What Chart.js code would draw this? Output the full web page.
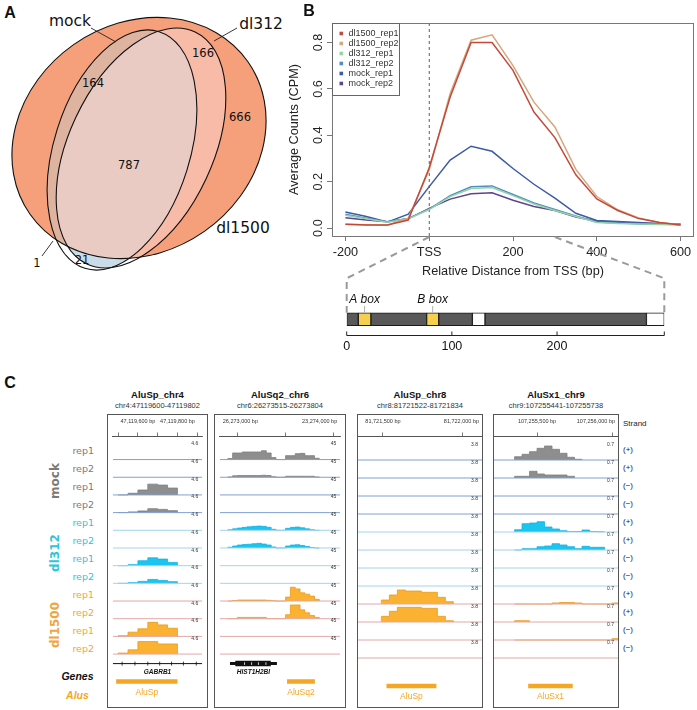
<!DOCTYPE html>
<html>
<head>
<meta charset="utf-8">
<title>Alu Pol III figure</title>
<script src="https://cdn.jsdelivr.net/npm/chart.js@4.4.1/dist/chart.umd.min.js"></script>
<style>
  body { margin: 0; background: #fff; }
  #fig { position: relative; width: 697px; height: 710px; overflow: hidden; font-family: "Liberation Sans", Arial, sans-serif; color: #111; -webkit-font-smoothing: antialiased; }
  #fig canvas, #fig svg, .t, .box { position: absolute; }
  .t { white-space: nowrap; line-height: 1; }
  .box { border: 1px solid #555; box-sizing: border-box; }
</style>
</head>
<body>
<div id="fig">
  <svg id="venn" width="300" height="300" style="left:0;top:0"></svg>
  <canvas id="chartB" width="417" height="290" style="left:280px;top:0"></canvas>
  <canvas id="chartGene" width="350" height="124" style="left:330px;top:236px"></canvas>
</div>
<script>
// panel A: peak overlap
const vennNames = ['mock', 'dl312', 'dl1500'];
const vennCounts = [164, 166, 666, 787, 21, 1]; // mock&dl1500, dl312&dl1500, dl1500 only, all, mock&dl312, mock only

// panel B: average profile around the TSS
const distance = [-200, -150, -100, -50, 0, 50, 100, 150, 200, 250, 300, 350, 400, 450, 500, 550, 600];
const dl1500Rep1 = [0.017, 0.013, 0.013, 0.035, 0.26, 0.565, 0.80, 0.80, 0.68, 0.50, 0.39, 0.23, 0.126, 0.076, 0.041, 0.024, 0.013];
const dl1500Rep2 = [0.017, 0.014, 0.012, 0.043, 0.25, 0.58, 0.81, 0.833, 0.70, 0.543, 0.436, 0.253, 0.136, 0.079, 0.044, 0.024, 0.014];
const dl312Rep1 = [0.055, 0.04, 0.025, 0.04, 0.08, 0.136, 0.171, 0.175, 0.14, 0.104, 0.076, 0.05, 0.024, 0.02, 0.018, 0.016, 0.015];
const dl312Rep2 = [0.06, 0.043, 0.027, 0.042, 0.082, 0.14, 0.178, 0.182, 0.145, 0.108, 0.08, 0.052, 0.026, 0.022, 0.019, 0.017, 0.016];
const mockRep1 = [0.069, 0.05, 0.026, 0.06, 0.179, 0.293, 0.353, 0.331, 0.257, 0.189, 0.129, 0.064, 0.033, 0.029, 0.024, 0.02, 0.017];
const mockRep2 = [0.045, 0.035, 0.027, 0.04, 0.085, 0.125, 0.148, 0.152, 0.12, 0.093, 0.076, 0.048, 0.03, 0.025, 0.02, 0.018, 0.016];
const seriesNames = ['dl1500_rep1', 'dl1500_rep2', 'dl312_rep1', 'dl312_rep2', 'mock_rep1', 'mock_rep2'];
const seriesValues = [dl1500Rep1, dl1500Rep2, dl312Rep1, dl312Rep2, mockRep1, mockRep2];
const seriesColors = ['#c4493a', '#d7a77c', '#93d3a5', '#4e8ec2', '#3d5aa6', '#5e4391'];
const xTicks = [-200, 0, 200, 400, 600];
const xTickLabels = ['-200', 'TSS', '200', '400', '600'];
const yTicks = [0, 0.2, 0.4, 0.6, 0.8];
const yTickLabels = ['0.0', '0.2', '0.4', '0.6', '0.8'];

// panel B: Alu element drawn under the profile
const aluSegStart = [0, 11, 23, 76, 87.5, 119.5, 131.5, 285];
const aluSegEnd = [11, 23, 76, 87.5, 119.5, 131.5, 285, 302];
const aluSegType = ['body', 'box', 'body', 'box', 'body', 'gap', 'body', 'gap'];
const aluBoxNames = ['A box', 'B box'];
const aluScaleTicks = [0, 100, 200, 302];
const aluScaleLabels = ['0', '100', '200', ''];

// panel C: browser tracks
const colTitles = ['AluSp_chr4', 'AluSq2_chr6', 'AluSp_chr8', 'AluSx1_chr9'];
const colRegions = ['chr4:47119600-47119802', 'chr6:26273515-26273804', 'chr8:81721522-81721834', 'chr9:107255441-107255738'];
const colRange = [[47119473, 47119925], [26272817, 26274067], [81721344, 81722119], [107255213, 107256040]];
const colTicks = [[47119500, 47119600, 47119700, 47119800, 47119900], [26273000, 26273500, 26274000], [81721500, 81722000], [107255500, 107256000]];
const colTickLabels = [['', '47,119,600 bp', '', '47,119,800 bp', ''], ['26,273,000 bp', '', '23,274,000 bp'], ['81,721,500 bp', '81,722,000 bp'], ['107,255,500 bp', '107,256,000 bp']];
const colDataRange = ['4.6', '45', '3.8', '0.7'];
const colBinStart = [47119500, 26272900, 81721490, 107255350];
const binSize = 50;

const trackGroups = ['mock', 'mock', 'mock', 'mock', 'dl312', 'dl312', 'dl312', 'dl312', 'dl1500', 'dl1500', 'dl1500', 'dl1500'];
const trackReps = ['rep1', 'rep2', 'rep1', 'rep2', 'rep1', 'rep2', 'rep1', 'rep2', 'rep1', 'rep2', 'rep1', 'rep2'];
const trackStrand = ['(+)', '(+)', '(\u2212)', '(\u2212)', '(+)', '(+)', '(\u2212)', '(\u2212)', '(+)', '(+)', '(\u2212)', '(\u2212)'];

const covChr4 = [
  [], [], [0, 0.43, 1.28, 2.81, 2.56, 1.79], [0, 0.18, 0.43, 1.02, 0.84, 0.51],
  [], [], [0, 0.26, 1.28, 2.04, 1.71, 0.84], [0, 0.18, 0.51, 1.02, 0.77, 0.43],
  [], [], [0.18, 1.10, 1.97, 3.65, 2.99, 2.12], [0.26, 1.10, 3.25, 3.25, 2.63, 2.63]
];
const covChr6 = [
  [2.5, 16.8, 16.8, 19.3, 19.3, 19.3, 19.3, 22.5, 16.8, 5, 0, 0, 10, 10, 15, 15.8, 10, 10, 3.3],
  [0.8, 3.8, 4.3, 4.3, 4.3, 4.3, 4.3, 5, 4.3, 1.3, 0, 0, 2.5, 2.5, 2.5, 2.5, 2.5, 2.5, 0.8],
  [], [],
  [1.3, 3.8, 5.8, 7.5, 8.8, 10, 10.8, 10, 7.5, 2.5, 0, 0, 5, 7.5, 8.3, 6.3, 3.8, 1.3, 0],
  [1.8, 5, 7.5, 8.8, 9.5, 10.8, 11.8, 10, 7.5, 2.5, 0, 0, 5, 7.5, 8.3, 6.3, 3.8, 1.3, 0],
  [], [],
  [0, 1.3, 2.5, 2.5, 2.5, 2.5, 2.5, 2.5, 1.8, 0.8, 0, 0, 10, 35, 30.8, 20.8, 17.5, 12.5, 4.3],
  [0, 0, 3.3, 3.3, 3.3, 3.3, 3.3, 3.3, 0, 0, 0, 0, 10, 35, 35, 22.5, 15, 8.3, 3.3],
  [], []
];
const covChr8 = [
  [], [], [], [], [], [], [], [],
  [0.84, 1.9, 2.96, 2.74, 2.74, 2.47, 2.47, 1.41, 0.49],
  [1.2, 2.26, 3.1, 3.1, 3.1, 2.89, 2.89, 1.2, 0.27],
  [], []
];
const covChr9 = [
  [0.128, 0.222, 0.323, 0.455, 0.544, 0.416, 0.261, 0.105, 0.027],
  [0.066, 0.066, 0.261, 0.156, 0.117, 0.117, 0.117, 0.066],
  [], [],
  [0.089, 0.323, 0.35, 0.4, 0.194, 0.117, 0.051, 0.019, 0.019, 0.078, 0.019, 0.012],
  [0, 0.051, 0.051, 0.128, 0.156, 0.245, 0.194, 0.128, 0.051, 0.144, 0.105, 0.105],
  [], [],
  [0, 0, 0, 0, 0, 0.039, 0.058, 0.058, 0.039, 0, 0, 0, 0, 0.039],
  [0.051, 0.051],
  [0, 0, 0, 0, 0, 0, 0, 0, 0, 0, 0, 0, 0, 0.051],
  []
];
const colCoverage = [covChr4, covChr6, covChr8, covChr9];

const geneNames = ['GABRB1', 'HIST1H2BI', '', ''];
const geneSpans = [[47119473, 47119925], [26272923, 26273410], null, null];
const geneCds = [null, [26272978, 26273346], null, null];
const geneMarks = [[47119520, 47119585, 47119650, 47119710, 47119770, 47119830, 47119895], [26273074, 26273147, 26273218, 26273296], [], []];
const aluNames = ['AluSp', 'AluSq2', 'AluSp', 'AluSx1'];
const aluSpans = [[47119490, 47119800], [26273515, 26273804], [81721522, 81721834], [107255441, 107255738]];


Chart.defaults.font.family = '"Liberation Sans", Arial, sans-serif';
Chart.defaults.animation = false;

const fig = document.getElementById('fig');

function addText(txt, x, y, css, anchor) {
  const d = document.createElement('div');
  d.className = 't';
  d.textContent = txt;
  d.style.cssText = `left:${x}px;top:${y}px;${css || ''}`;
  const tx = anchor === 'right' ? '-100%' : anchor === 'left' ? '0' : '-50%';
  d.style.transform = `translate(${tx},-50%)` + (anchor === 'rot' ? ' rotate(-90deg)' : '');
  fig.appendChild(d);
  return d;
}

// panel letters
addText('A', 10, 12.5, 'font-weight:bold;font-size:16px');
addText('B', 309, 11, 'font-weight:bold;font-size:16px');
addText('C', 10, 383, 'font-weight:bold;font-size:16px');


// ---------- A: Venn ----------

const ell = {
  dl1500: [139, 138, 133, 114, -35],
  mock: [122, 150, 124, 68, -72.6],
  dl312: [141, 148, 128, 72, -65]
};
const el = (k, extra) => {
  const [cx, cy, rx, ry, r] = ell[k];
  return `<ellipse cx="${cx}" cy="${cy}" rx="${rx}" ry="${ry}" transform="rotate(${r} ${cx} ${cy})" ${extra}/>`;
};
const countPos = [[93, 83], [203, 53], [240, 117], [129, 165], [82, 260], [37, 263]];
const namePos = [[70, 21], [261, 24], [243, 228]];

document.getElementById('venn').innerHTML = `
<defs>
  <clipPath id="clipBig">${el('dl1500', '')}</clipPath>
  <clipPath id="clipMock">${el('mock', '')}</clipPath>
</defs>
<g clip-path="url(#clipMock)">${el('dl312', 'fill="#c9dce7"')}</g>
${el('dl1500', 'fill="#f59f7b"')}
<g clip-path="url(#clipBig)">
  ${el('mock', 'fill="#deb4a1"')}
  ${el('dl312', 'fill="#f8bba8"')}
  <g clip-path="url(#clipMock)">${el('dl312', 'fill="#e9cbc4"')}</g>
</g>
${['dl1500', 'mock', 'dl312'].map(k => el(k, 'fill="none" stroke="#111" stroke-width="1.1"')).join('')}
<g stroke="#222" stroke-width="0.9">
  <line x1="91" y1="28" x2="116" y2="42"/>
  <line x1="237" y1="28" x2="214" y2="41"/>
  <line x1="42" y1="256" x2="53" y2="241"/>
</g>
<g font-family="DejaVu Sans" fill="#111" text-anchor="middle" dominant-baseline="central">
  ${vennNames.map((n, i) => `<text x="${namePos[i][0]}" y="${namePos[i][1]}" font-size="15.5">${n}</text>`).join('')}
  ${vennCounts.map((n, i) => `<text x="${countPos[i][0]}" y="${countPos[i][1]}" font-size="11.5">${n}</text>`).join('')}
</g>`;


// ---------- B: TSS profile ----------

const frameB = {
  id: 'frameB',
  afterDraw(chart) {
    const { ctx, chartArea: a, scales: { y } } = chart;
    ctx.save();
    ctx.strokeStyle = '#777';
    ctx.lineWidth = 1;
    ctx.strokeRect(a.left + 0.5, a.top + 0.5, a.width - 1, a.height);

    ctx.fillStyle = '#222';
    ctx.font = '12.7px "Liberation Sans"';
    ctx.textAlign = 'center';
    ctx.textBaseline = 'middle';
    yTicks.forEach((v, i) => {
      ctx.save();
      ctx.translate(38.3, y.getPixelForValue(v));
      ctx.rotate(-Math.PI / 2);
      ctx.fillText(yTickLabels[i], 0, 0);
      ctx.restore();
    });

    // legend, top left inside the box
    const lx = a.left + 0.5, ly = a.top + 0.5;
    ctx.fillStyle = '#fff';
    ctx.fillRect(lx, ly, 67, 72);
    ctx.strokeStyle = '#666';
    ctx.strokeRect(lx, ly, 67, 72);
    ctx.font = '9px "Liberation Sans"';
    ctx.textAlign = 'left';
    seriesNames.forEach((n, i) => {
      const yy = ly + 10 + i * 10;
      ctx.fillStyle = seriesColors[i];
      ctx.fillRect(lx + 7, yy - 1.8, 3.6, 3.6);
      ctx.fillStyle = '#333';
      ctx.fillText(n, lx + 16, yy);
    });
    ctx.restore();
  }
};

const chartB = new Chart(document.getElementById('chartB'), {
  type: 'line',
  data: {
    datasets: seriesNames.map((n, i) => ({
      label: n,
      data: distance.map((d, k) => ({ x: d, y: seriesValues[i][k] })),
      borderColor: seriesColors[i],
      borderWidth: 1.5,
      pointRadius: 0,
      tension: 0
    })).concat([{
      label: 'TSS',
      data: [{ x: 0, y: -0.034 }, { x: 0, y: 0.884 }],
      borderColor: '#333',
      borderWidth: 0.8,
      borderDash: [3, 3],
      pointRadius: 0
    }])
  },
  options: {
    responsive: false,
    layout: { padding: { top: 23, right: 3, left: 0, bottom: 0 } },
    plugins: { legend: { display: false }, tooltip: { enabled: false } },
    scales: {
      x: {
        type: 'linear', min: -232, max: 632,
        grid: { drawOnChartArea: false, color: '#777', tickLength: 5 },
        border: { display: false },
        ticks: {
          color: '#222', font: { size: 12.7 }, padding: 4, maxRotation: 0, autoSkip: false,
          callback: v => { const i = xTicks.indexOf(v); return i < 0 ? '' : xTickLabels[i]; }
        },
        afterBuildTicks: s => { s.ticks = xTicks.map(v => ({ value: v })); },
        afterFit: s => { s.height = 54; s.paddingLeft = 0; s.paddingRight = 0; },
        title: { display: true, text: 'Relative Distance from TSS (bp)', color: '#222', font: { size: 12.7 }, padding: { top: 0, bottom: 11 } }
      },
      y: {
        type: 'linear', min: -0.034, max: 0.884,
        grid: { drawOnChartArea: false, color: '#777', tickLength: 5 },
        border: { display: false },
        ticks: { display: false },
        afterBuildTicks: s => { s.ticks = yTicks.map(v => ({ value: v })); },
        afterFit: s => { s.width = 52; },
        title: { display: true, text: 'Average Counts (CPM)', color: '#222', font: { size: 12.7 }, padding: { top: 6.4, bottom: 0 } }
      }
    }
  },
  plugins: [frameB]
});

// Alu element with A and B boxes, plus zoom lines from the profile
const segColor = { body: '#595959', box: '#f6cf4e', gap: '#ffffff' };

const geneDeco = {
  id: 'geneDeco',
  afterDraw(chart) {
    const { ctx, chartArea: a, scales: { x } } = chart;
    const ox = chart.canvas.offsetLeft, oy = chart.canvas.offsetTop;
    const bx = chartB.scales.x, bArea = chartB.chartArea, bLeft = chartB.canvas.offsetLeft;
    const barTop = (a.top + a.bottom) / 2 - 6.5;
    const elbow = 278.3 - oy;
    const end = aluSegEnd[aluSegEnd.length - 1];
    ctx.save();

    ctx.strokeStyle = '#9a9a9a';
    ctx.lineWidth = 2;
    ctx.setLineDash([7, 5]);
    [[0, 0], [300, end]].forEach(([from, to]) => {
      ctx.beginPath();
      ctx.moveTo(bx.getPixelForValue(from) + bLeft - ox, bArea.bottom + 1 - oy);
      ctx.lineTo(x.getPixelForValue(to), elbow);
      ctx.lineTo(x.getPixelForValue(to), barTop);
      ctx.stroke();
    });
    ctx.setLineDash([]);

    // box names
    ctx.font = 'italic 12px "Liberation Sans"';
    ctx.textAlign = 'center';
    ctx.textBaseline = 'middle';
    ctx.fillStyle = '#111';
    let b = 0;
    aluSegType.forEach((t, i) => {
      if (t !== 'box') return;
      const cx = x.getPixelForValue((aluSegStart[i] + aluSegEnd[i]) / 2);
      ctx.fillText(aluBoxNames[b++], cx, 300 - oy);
      ctx.strokeStyle = '#b0b0b0';
      ctx.lineWidth = 1;
      ctx.beginPath();
      ctx.moveTo(cx, 306 - oy);
      ctx.lineTo(cx, barTop);
      ctx.stroke();
    });

    // bp scale
    ctx.strokeStyle = '#222';
    ctx.lineWidth = 1;
    ctx.beginPath();
    ctx.moveTo(x.getPixelForValue(0), a.bottom + 0.5);
    ctx.lineTo(x.getPixelForValue(end), a.bottom + 0.5);
    aluScaleTicks.forEach(v => {
      ctx.moveTo(x.getPixelForValue(v), a.bottom + 0.5);
      ctx.lineTo(x.getPixelForValue(v), a.bottom - 3.5);
    });
    ctx.stroke();
    ctx.font = '12.5px "Liberation Sans"';
    aluScaleTicks.forEach((v, i) => ctx.fillText(aluScaleLabels[i], x.getPixelForValue(v), a.bottom + 12));
    ctx.restore();
  }
};

new Chart(document.getElementById('chartGene'), {
  type: 'bar',
  data: {
    labels: ['Alu'],
    datasets: aluSegType.map((t, i) => ({
      data: [[aluSegStart[i], aluSegEnd[i]]],
      backgroundColor: segColor[t],
      borderColor: '#1a1a1a',
      borderWidth: 1,
      borderSkipped: false,
      barThickness: 13,
      grouped: false
    }))
  },
  options: {
    responsive: false,
    indexAxis: 'y',
    layout: { padding: { left: 16.7, right: 15.7, top: 67.5, bottom: 25 } },
    plugins: { legend: { display: false }, tooltip: { enabled: false } },
    scales: {
      x: { type: 'linear', min: 0, max: 302, display: false },
      y: { type: 'category', display: false }
    }
  },
  plugins: [geneDeco]
});


// ---------- C: browser tracks ----------

const colBoxL = [107, 214, 357, 493];
const colBoxR = [208, 346, 483, 619];
const TRACK_PX = 18;
const AREA_TOP = 436, AREA_BOTTOM = 707;
const baseOf = i => (460 - AREA_TOP) / TRACK_PX + i;
const geneY = (667.7 - AREA_TOP) / TRACK_PX;
const aluY = (686 - AREA_TOP) / TRACK_PX;

const fillCol = { mock: '#8e8e8e', dl312: '#1cc4f0', dl1500: '#fbb232' };
const edgeCol = { mock: '#7d7d7d', dl312: '#10b4e4', dl1500: '#e99a1a' };
const baseCol = { mock: '#7fa0d4', dl312: '#a2d5ec', dl1500: '#e3a7a7' };
const labelCol = { mock: '#7a7a7a', dl312: '#2cc6d8', dl1500: '#f2a53d' };
const aluColor = '#f5a623';

function makeTrackChart(c) {
  const box = document.createElement('div');
  box.className = 'box';
  box.style.cssText = `left:${colBoxL[c]}px;top:414px;width:${colBoxR[c] - colBoxL[c]}px;height:294px`;
  fig.appendChild(box);

  const cv = document.createElement('canvas');
  cv.width = colBoxR[c] - colBoxL[c] - 2;
  cv.height = AREA_BOTTOM - 415;
  cv.style.left = (colBoxL[c] + 1) + 'px';
  cv.style.top = '415px';
  fig.appendChild(cv);

  const [xMin, xMax] = colRange[c];
  const scaleMax = parseFloat(colDataRange[c]);
  const ds = [];

  colCoverage[c].forEach((vals, i) => {
    const base = baseOf(i);
    const g = trackGroups[i];
    if (vals.length) {
      const pts = [{ x: colBinStart[c], y: base }];
      vals.forEach((v, k) => pts.push({ x: colBinStart[c] + k * binSize, y: base - v / scaleMax }));
      pts.push({ x: colBinStart[c] + vals.length * binSize, y: base });
      ds.push({
        data: pts, stepped: true, fill: { value: base },
        backgroundColor: fillCol[g], borderColor: edgeCol[g], borderWidth: 0.8,
        pointRadius: 0, order: 2
      });
    }
    ds.push({
      data: [{ x: xMin, y: base }, { x: xMax, y: base }],
      borderColor: baseCol[g], borderWidth: 1, pointRadius: 0, order: 1
    });
  });

  if (geneSpans[c]) {
    ds.push({
      data: geneSpans[c].map(v => ({ x: v, y: geneY })),
      borderColor: '#111', borderWidth: geneCds[c] ? 3 : 1, borderCapStyle: 'butt', pointRadius: 0, order: 1
    });
  }
  if (geneCds[c]) {
    ds.push({
      data: geneCds[c].map(v => ({ x: v, y: geneY })),
      borderColor: '#111', borderWidth: 5.5, borderCapStyle: 'butt', pointRadius: 0, order: 1
    });
  }
  if (geneMarks[c].length) {
    ds.push({
      data: geneMarks[c].map(v => ({ x: v, y: geneY })),
      showLine: false, pointStyle: 'line', rotation: 90,
      pointRadius: geneCds[c] ? 1.3 : 2, borderWidth: 0.8,
      pointBorderColor: geneCds[c] ? '#fff' : '#111', order: 0
    });
  }
  ds.push({
    data: aluSpans[c].map(v => ({ x: v, y: aluY })),
    borderColor: aluColor, borderWidth: 4.5, borderCapStyle: 'butt', pointRadius: 0, order: 1
  });

  const trackText = {
    id: 'trackText' + c,
    afterDraw(chart) {
      const { ctx, chartArea: a, scales: { x, y } } = chart;
      ctx.save();
      ctx.fillStyle = '#333';
      ctx.textBaseline = 'middle';
      ctx.textAlign = 'center';
      ctx.font = '5.5px "Liberation Sans"';
      colTicks[c].forEach((v, i) => {
        const lab = colTickLabels[c][i];
        if (!lab) return;
        const w = ctx.measureText(lab).width;
        const px = Math.min(Math.max(x.getPixelForValue(v), a.left + 3 + w / 2), a.right - 3 - w / 2);
        ctx.fillText(lab, px, 421.3 - 415);
      });
      ctx.font = '5px "Liberation Sans"';
      ctx.textAlign = 'right';
      trackGroups.forEach((g, i) => ctx.fillText(colDataRange[c], a.right - 4, y.getPixelForValue(baseOf(i)) - 15.5));

      ctx.textAlign = 'center';
      if (geneNames[c]) {
        const gs = geneSpans[c];
        ctx.font = 'italic bold 6.5px "Liberation Sans"';
        ctx.fillStyle = '#111';
        ctx.fillText(geneNames[c], x.getPixelForValue((gs[0] + gs[1]) / 2), y.getPixelForValue(geneY + 0.5));
      }
      ctx.font = '8.5px "Liberation Sans"';
      ctx.fillStyle = aluColor;
      ctx.fillText(aluNames[c], x.getPixelForValue((aluSpans[c][0] + aluSpans[c][1]) / 2), y.getPixelForValue(aluY + 0.6));
      ctx.restore();
    }
  };

  new Chart(cv, {
    type: 'line',
    data: { datasets: ds },
    options: {
      responsive: false,
      layout: { padding: 0 },
      plugins: { legend: { display: false }, tooltip: { enabled: false } },
      scales: {
        x: {
          type: 'linear', position: 'top', min: xMin, max: xMax,
          grid: { drawOnChartArea: false, color: '#555', tickLength: 3.5, lineWidth: 0.8 },
          border: { display: true, color: '#555', width: 1 },
          ticks: { display: false },
          afterBuildTicks: s => { s.ticks = colTicks[c].map(v => ({ value: v })); },
          afterFit: s => { s.height = AREA_TOP - 415; s.paddingLeft = 0; s.paddingRight = 0; }
        },
        y: { type: 'linear', min: 0, max: (AREA_BOTTOM - AREA_TOP) / TRACK_PX, reverse: true, display: false }
      }
    },
    plugins: [trackText]
  });

  const mid = (colBoxL[c] + colBoxR[c]) / 2;
  addText(colTitles[c], mid, 395, 'font-weight:bold;font-size:9.5px');
  addText(colRegions[c], mid, 405.5, 'font-size:7.5px;color:#333');
}

colTitles.forEach((t, c) => makeTrackChart(c));

// row labels, group labels, strand column
trackReps.forEach((r, i) => {
  const yb = 460 + TRACK_PX * i;
  addText(r, 94, yb - 9.5, `font-family:"DejaVu Sans";font-size:9.5px;color:${labelCol[trackGroups[i]]}`, 'right');
  addText(trackStrand[i], 628, yb - 10, 'font-size:8px;color:#222');
});
['mock', 'dl312', 'dl1500'].forEach((g, k) => {
  addText(g, 55, 478 + 72 * k + 2.5, `font-family:"DejaVu Sans";font-weight:bold;font-size:12px;color:${labelCol[g]}`, 'rot');
});
addText('Strand', 623, 424, 'font-size:8px;color:#222', 'left');
addText('Genes', 77.5, 676, 'font-weight:bold;font-style:italic;font-size:10.5px;color:#111');
addText('Alus', 77.5, 695, `font-weight:bold;font-style:italic;font-size:10.5px;color:${aluColor}`);
</script>
</body>
</html>
